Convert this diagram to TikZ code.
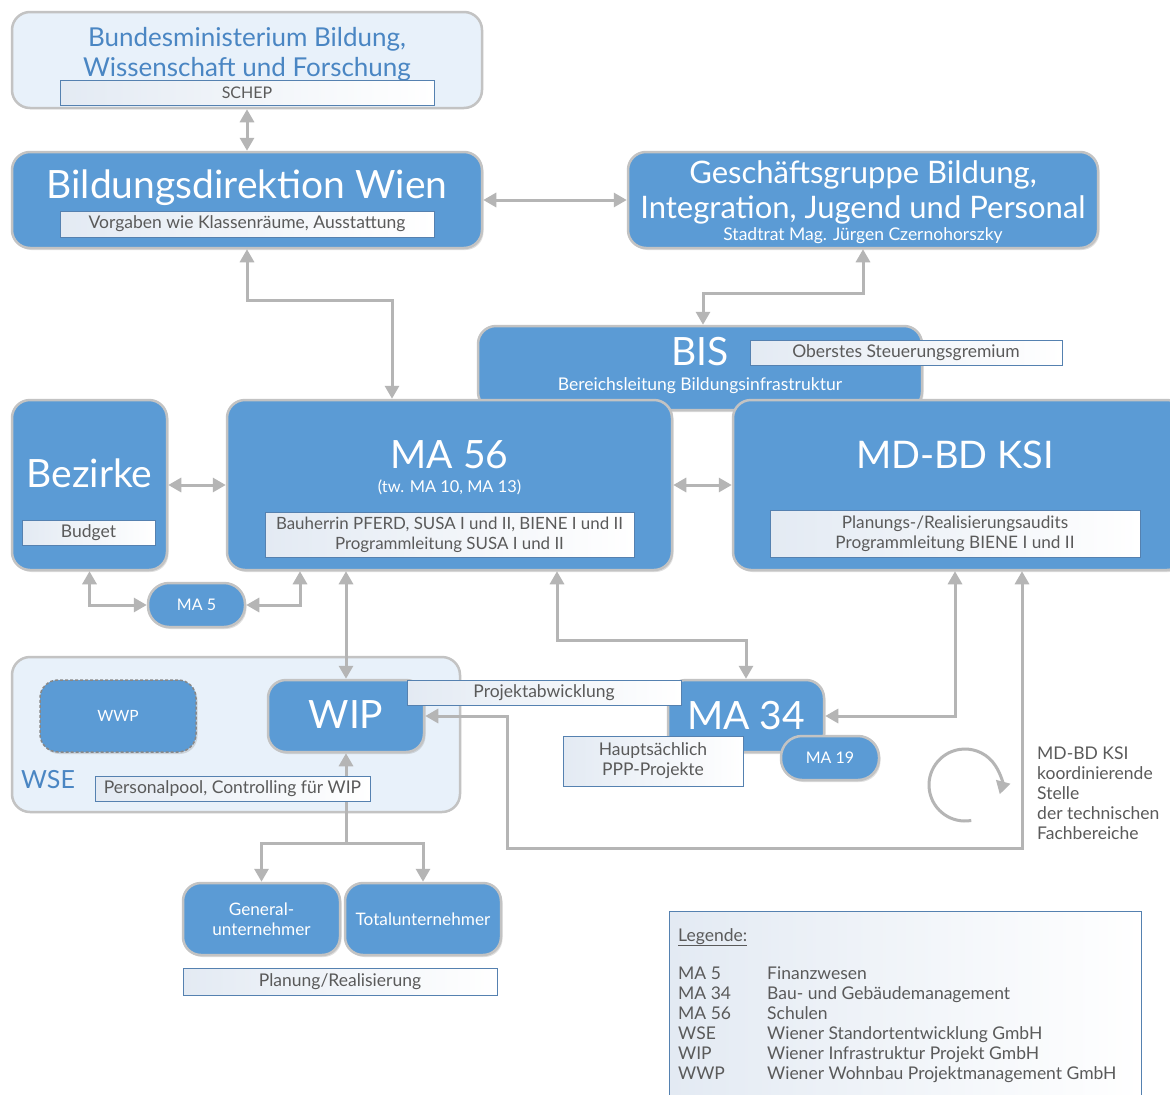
\documentclass[tikz,border=0pt]{standalone}
\usepackage{fontspec}
\setmainfont{Lato}
\usetikzlibrary{arrows.meta,calc,shadows}
\definecolor{mblue}{HTML}{5B9BD5}
\definecolor{bgray}{HTML}{C3C3C3}
\definecolor{lfill}{HTML}{E8F1FA}
\definecolor{agray}{HTML}{B5B5B5}
\definecolor{subb}{HTML}{5581B0}
\definecolor{subl}{HTML}{E3EAF3}
\definecolor{tgray}{HTML}{5A5A5A}
\definecolor{tblue}{HTML}{4A86C3}
\newcommand\myfs[2]{\fontsize{#1}{#2}\selectfont}
\pgfdeclarelayer{back}
\pgfdeclarelayer{bg}
\pgfsetlayers{back,bg,main}
\tikzset{
  bluebox/.style={draw=bgray, line width=2.5pt, fill=mblue, rounded corners=18pt, inner sep=0pt,
    drop shadow={shadow xshift=1.5pt, shadow yshift=-2pt, opacity=0.25}},
  pill/.style={bluebox, rounded corners=21pt, text=white, font=\myfs{16}{20}},
  lightbox/.style={draw=bgray, line width=2.5pt, fill=lfill, rounded corners=18pt, inner sep=0pt},
  subbox/.style={draw=subb, line width=1pt, left color=subl, right color=white, text=tgray,
    inner sep=0pt, align=center, font=\myfs{17.5}{20}},
  ttl/.style={text=white, inner sep=0pt, anchor=base},
  arr/.style={draw=agray, line width=3pt, {Triangle[length=13pt,width=14pt]}-{Triangle[length=13pt,width=14pt]}},
  arrE/.style={draw=agray, line width=3pt, -{Triangle[length=13pt,width=14pt]}},
  arrS/.style={draw=agray, line width=3pt, {Triangle[length=13pt,width=14pt]}-},
  plain/.style={text=tgray, inner sep=0pt, anchor=base west, font=\myfs{17.5}{20}},
}
\begin{document}
\begin{tikzpicture}[x=1pt,y=1pt]
\useasboundingbox (0,0) rectangle (1170,-1095);
\begin{pgfonlayer}{back}
\fill[white] (0,0) rectangle (1170,-1095);
\end{pgfonlayer}

% ---- top
\node[lightbox, minimum width=470, minimum height=96] (bund) at (247,-60) {};
\node[ttl, text=tblue, font=\myfs{26}{30}] (bundA) at (247,-46) {Bundesministerium Bildung,};
\node[ttl, text=tblue, font=\myfs{26}{30}] (bundB) at (247,-76) {Wissenschaft und Forschung};
\node[subbox, minimum width=374, minimum height=25, font=\myfs{16}{18}] (schep) at (247,-92.5) {SCHEP};

\node[bluebox, minimum width=470, minimum height=96] (bdw) at (247,-200) {};
\node[ttl, font=\myfs{39}{44}] (bdwT) at (247,-198) {Bildungsdirektion Wien};
\node[subbox, minimum width=374, minimum height=26] (bdwS) at (247,-224) {Vorgaben wie Klassenräume, Ausstattung};

\node[bluebox, minimum width=470, minimum height=96] (gg) at (863,-200) {};
\node[ttl, font=\myfs{31}{34}] (ggA) at (863,-183) {Geschäftsgruppe Bildung,};
\node[ttl, font=\myfs{31}{34}] (ggB) at (863,-218) {Integration, Jugend und Personal};
\node[ttl, font=\myfs{17.5}{18}] (ggC) at (863,-240) {Stadtrat Mag. Jürgen Czernohorszky};

% ---- BIS
\node[bluebox, minimum width=444, minimum height=84] (bis) at (700,-368) {};
\node[ttl, font=\myfs{39}{44}] (bisT) at (700,-365) {BIS};
\node[ttl, font=\myfs{17.5}{20}] (bisS) at (700,-390) {Bereichsleitung Bildungsinfrastruktur};
\node[subbox, minimum width=312, minimum height=25] (ober) at (906,-352.5) {Oberstes Steuerungsgremium};

% ---- row of three
\node[bluebox, minimum width=155, minimum height=170] (bez) at (89.5,-485) {};
\node[ttl, font=\myfs{39}{44}] (bezT) at (89.5,-487) {Bezirke};
\node[subbox, minimum width=133, minimum height=25] (budget) at (88.5,-532.5) {Budget};

\node[bluebox, minimum width=445, minimum height=170] (ma56) at (449.5,-485) {};
\node[ttl, font=\myfs{39}{44}] (ma56T) at (449.5,-468) {MA 56};
\node[ttl, font=\myfs{16.4}{18}] (ma56B) at (449.5,-492) {(tw. MA 10, MA 13)};
\node[subbox, minimum width=369, minimum height=45, font=\myfs{16.9}{20}] (ma56S) at (449.5,-534.5) {Bauherrin PFERD, SUSA I und II, BIENE I und II\\Programmleitung SUSA I und II};

\node[bluebox, minimum width=452, minimum height=170] (mdbd) at (959,-485) {};
\node[ttl, font=\myfs{38}{44}] (mdbdT) at (955,-468) {MD-BD KSI};
\node[subbox, minimum width=370, minimum height=47, font=\myfs{17.2}{20}] (mdbdS) at (955,-533.5) {Planungs-/Realisierungsaudits\\Programmleitung BIENE I und II};

\node[pill, minimum width=97, minimum height=44] (ma5) at (196.5,-605) {MA 5};

% ---- WSE
\begin{pgfonlayer}{back}
\node[lightbox, minimum width=448, minimum height=155] (wse) at (236,-734.5) {};
\end{pgfonlayer}
\node[ttl, text=tblue, anchor=base west, font=\myfs{25}{30}] (wseT) at (21,-788) {WSE};
\node[bluebox, draw=bgray!70!black, dashed, line width=1.5pt, dash pattern=on 3pt off 2pt, minimum width=156, minimum height=72, text=white, font=\myfs{15.5}{18}] (wwp) at (118,-716) {WWP};
\node[bluebox, minimum width=156, minimum height=72] (wip) at (346,-716) {};
\node[ttl, font=\myfs{39}{44}] (wipT) at (346,-728) {WIP};
\node[subbox, minimum width=275, minimum height=25] (ppool) at (232.5,-788.5) {Personalpool, Controlling für WIP};

% ---- MA 34
\node[bluebox, minimum width=156, minimum height=72] (ma34) at (746,-716) {};
\node[ttl, font=\myfs{39}{44}] (ma34T) at (746,-729) {MA 34};
\node[subbox, minimum width=274, minimum height=25] (projab) at (544,-692.5) {Projektabwicklung};
\node[subbox, minimum width=180, minimum height=50] (ppp) at (653,-761) {Hauptsächlich\\PPP-Projekte};
\node[pill, minimum width=98, minimum height=44] (ma19) at (830,-758) {MA 19};

% ---- bottom
\node[bluebox, minimum width=157, minimum height=72, text=white, align=center, font=\myfs{17.2}{20}] (gu) at (261.5,-919) {General-\\unternehmer};
\node[bluebox, minimum width=156, minimum height=72, text=white, font=\myfs{17.2}{20}] (tu) at (423,-919) {Totalunternehmer};
\node[subbox, minimum width=314, minimum height=27] (planr) at (340,-981.5) {Planung/Realisierung};

% ---- right text
\node[plain] (koA) at (1037,-759) {MD-BD KSI};
\node[plain] (koB) at (1037,-779) {koordinierende};
\node[plain] (koC) at (1037,-799) {Stelle};
\node[plain] (koD) at (1037,-819) {der technischen};
\node[plain] (koE) at (1037,-839) {Fachbereiche};
\coordinate (circ) at (965,-785);
\draw[arrE] ($(circ)+(280:36)$) arc[start angle=280, end angle=-15, radius=36];

% ---- legend
\node[draw=subb, line width=1pt, left color=subl, right color=white, minimum width=472, minimum height=194, inner sep=0pt] (leg) at (905,-1008) {};
\node[plain, font=\myfs{17.5}{20}\color{tblue!60!tgray}] (legT) at (678,-941) {\underline{Legende:}};
\node[plain, anchor=north west] (legE) at (678,-965) {\begin{tabular}{@{}p{89pt}@{}l@{}}
MA 5 & Finanzwesen\\
MA 34 & Bau- und Gebäudemanagement\\
MA 56 & Schulen\\
WSE & Wiener Standortentwicklung GmbH\\
WIP & Wiener Infrastruktur Projekt GmbH\\
WWP & Wiener Wohnbau Projektmanagement GmbH
\end{tabular}};

% ---- connectors
\begin{pgfonlayer}{bg}
\draw[arr] (bund.south) -- (bdw.north);
\draw[arr] (bdw.east) -- (gg.west);
\coordinate (k1) at (863,-293);
\coordinate (k2) at (703,-293);
\draw[arr] (gg.south) -- (k1) -- (k2) -- (k2 |- bis.north);
\coordinate (k3) at (247,-300);
\coordinate (k4) at (392,-300);
\draw[arr] (bdw.south) -- (k3) -- (k4) -- (k4 |- ma56.north);
\draw[arr] (bez.east) -- (ma56.west);
\draw[arr] (ma56.east) -- (mdbd.west);
\draw[arr] (bez.south) |- (ma5.west);
\coordinate (k5) at (300,-605);
\draw[arr] (ma5.east) -- (k5) -- (k5 |- ma56.south);
\draw[arr] (ma56.south -| wip.north) -- (wip.north);
\coordinate (k6) at (557,-640);
\draw[arr] (k6 |- ma56.south) -- (k6) -| (ma34.north);
\coordinate (k7) at (955,-716);
\draw[arr] (k7 |- mdbd.south) -- (k7) -- (ma34.east);
\coordinate (k8a) at (1022,-848);
\coordinate (k8b) at (507,-848);
\draw[arr] (k8a |- mdbd.south) -- (k8a) -- (k8b) |- (wip.east);
\coordinate (k9) at (346,-843);
\draw[arrS] (wip.south) -- (k9);
\draw[arrE] (k9) -| (gu.north);
\draw[arrE] (k9) -| (tu.north);
\end{pgfonlayer}
\end{tikzpicture}
\end{document}
